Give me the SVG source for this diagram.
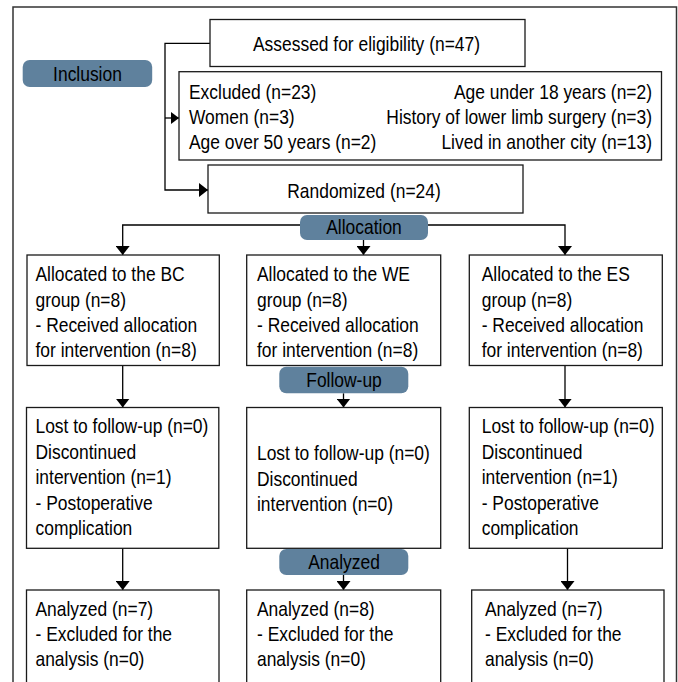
<svg xmlns="http://www.w3.org/2000/svg" width="678" height="682" viewBox="0 0 678 682">
<style>
.box{fill:#fff;stroke:#1a1a1a;stroke-width:1.3}
.pill{fill:#5f819d;stroke:none}
.frame{fill:none;stroke:#333;stroke-width:1.5}
.ln{fill:none;stroke:#000;stroke-width:1.3}
text{font-family:"Liberation Sans",Arial,sans-serif;font-size:20.5px;fill:#000}
.c{text-anchor:middle}
.r{text-anchor:end}
</style>
<defs>
<marker id="ah" markerUnits="userSpaceOnUse" viewBox="0 0 9 14" markerWidth="9" markerHeight="14" refX="9" refY="7" orient="auto"><path d="M0,0 L9,7 L0,14 z" fill="#000"/></marker>
<marker id="ahs" markerUnits="userSpaceOnUse" viewBox="0 0 8 12" markerWidth="8" markerHeight="12" refX="8" refY="6" orient="auto"><path d="M0,0 L8,6 L0,12 z" fill="#000"/></marker>
</defs>
<rect class="frame" x="13" y="7" width="663.5" height="690"/>
<g id="connectors">
<path class="ln" d="M210,43.3 H165 V190 H208" marker-end="url(#ah)"/>
<path class="ln" d="M165,118 H179" marker-end="url(#ahs)"/>
<path class="ln" d="M300,225 H122.7 V255" marker-end="url(#ah)"/>
<path class="ln" d="M428,225 H565 V255" marker-end="url(#ah)"/>
<path class="ln" d="M363.5,240 V255" marker-end="url(#ah)"/>
<path class="ln" d="M122.7,365.5 V407.5" marker-end="url(#ah)"/>
<path class="ln" d="M343.5,393.3 V407.5" marker-end="url(#ah)"/>
<path class="ln" d="M565,365.5 V407.5" marker-end="url(#ah)"/>
<path class="ln" d="M122.7,548 V590" marker-end="url(#ah)"/>
<path class="ln" d="M343.5,575 V590" marker-end="url(#ah)"/>
<path class="ln" d="M567.5,548 V590" marker-end="url(#ah)"/>
</g>
<g id="inclusion"><rect class="pill" x="22.7" y="60" width="129.5" height="27" rx="7"/><text class="c" transform="translate(87.5,80.5) scale(.85,1)">Inclusion</text></g>
<g id="assessed"><rect class="box" x="210" y="19.5" width="315" height="47"/><text class="c" transform="translate(366.5,50.5) scale(.85,1)">Assessed for eligibility (n=47)</text></g>
<g id="excluded"><rect class="box" x="179" y="71.7" width="482.5" height="88.3"/>
<text transform="translate(189,99) scale(.85,1)">Excluded (n=23)</text><text transform="translate(189,124) scale(.85,1)">Women (n=3)</text><text transform="translate(189,148.5) scale(.85,1)">Age over 50 years (n=2)</text>
<text class="r" transform="translate(652,99) scale(.85,1)">Age under 18 years (n=2)</text><text class="r" transform="translate(652,124) scale(.85,1)">History of lower limb surgery (n=3)</text><text class="r" transform="translate(652,148.5) scale(.85,1)">Lived in another city (n=13)</text></g>
<g id="randomized"><rect class="box" x="208" y="165" width="315" height="48"/><text class="c" transform="translate(364,198) scale(.85,1)">Randomized (n=24)</text></g>
<g id="allocation"><rect class="pill" x="300" y="215" width="128" height="25" rx="7"/><text class="c" transform="translate(364,233.5) scale(.85,1)">Allocation</text></g>
<g id="alloc-bc"><rect class="box" x="27" y="255" width="192.3" height="110.5"/><text transform="translate(35.5,281) scale(.85,1)">Allocated to the BC</text><text transform="translate(35.5,306.5) scale(.85,1)">group (n=8)</text><text transform="translate(35.5,332) scale(.85,1)">- Received allocation</text><text transform="translate(35.5,357) scale(.85,1)">for intervention (n=8)</text></g>
<g id="alloc-we"><rect class="box" x="246.7" y="255" width="194" height="110.5"/><text transform="translate(257,281) scale(.85,1)">Allocated to the WE</text><text transform="translate(257,306.5) scale(.85,1)">group (n=8)</text><text transform="translate(257,332) scale(.85,1)">- Received allocation</text><text transform="translate(257,357) scale(.85,1)">for intervention (n=8)</text></g>
<g id="alloc-es"><rect class="box" x="469.3" y="255" width="193" height="110.5"/><text transform="translate(481.7,281) scale(.85,1)">Allocated to the ES</text><text transform="translate(481.7,306.5) scale(.85,1)">group (n=8)</text><text transform="translate(481.7,332) scale(.85,1)">- Received allocation</text><text transform="translate(481.7,357) scale(.85,1)">for intervention (n=8)</text></g>
<g id="followup"><rect class="pill" x="279.3" y="366.7" width="129" height="26.6" rx="7"/><text class="c" transform="translate(344,386.5) scale(.85,1)">Follow-up</text></g>
<g id="fu-bc"><rect class="box" x="26.5" y="407.5" width="192.3" height="140.8"/><text transform="translate(35.5,433) scale(.85,1)">Lost to follow-up (n=0)</text><text transform="translate(35.5,458.5) scale(.85,1)">Discontinued</text><text transform="translate(35.5,484) scale(.85,1)">intervention (n=1)</text><text transform="translate(35.5,509.5) scale(.85,1)">- Postoperative</text><text transform="translate(35.5,535) scale(.85,1)">complication</text></g>
<g id="fu-we"><rect class="box" x="246.7" y="407.5" width="194" height="140.8"/><text transform="translate(257,460) scale(.85,1)">Lost to follow-up (n=0)</text><text transform="translate(257,485.5) scale(.85,1)">Discontinued</text><text transform="translate(257,511) scale(.85,1)">intervention (n=0)</text></g>
<g id="fu-es"><rect class="box" x="469.3" y="407.5" width="193" height="140.8"/><text transform="translate(481.7,433) scale(.85,1)">Lost to follow-up (n=0)</text><text transform="translate(481.7,458.5) scale(.85,1)">Discontinued</text><text transform="translate(481.7,484) scale(.85,1)">intervention (n=1)</text><text transform="translate(481.7,509.5) scale(.85,1)">- Postoperative</text><text transform="translate(481.7,535) scale(.85,1)">complication</text></g>
<g id="analyzed"><rect class="pill" x="279.3" y="549" width="129" height="26" rx="7"/><text class="c" transform="translate(344,568.5) scale(.85,1)">Analyzed</text></g>
<g id="an-bc"><rect class="box" x="26.5" y="590" width="192.5" height="110"/><text transform="translate(35.5,615.5) scale(.85,1)">Analyzed (n=7)</text><text transform="translate(35.5,641) scale(.85,1)">- Excluded for the</text><text transform="translate(35.5,666) scale(.85,1)">analysis (n=0)</text></g>
<g id="an-we"><rect class="box" x="246.7" y="590" width="194" height="110"/><text transform="translate(257,615.5) scale(.85,1)">Analyzed (n=8)</text><text transform="translate(257,641) scale(.85,1)">- Excluded for the</text><text transform="translate(257,666) scale(.85,1)">analysis (n=0)</text></g>
<g id="an-es"><rect class="box" x="471.7" y="590" width="192.3" height="110"/><text transform="translate(485,615.5) scale(.85,1)">Analyzed (n=7)</text><text transform="translate(485,641) scale(.85,1)">- Excluded for the</text><text transform="translate(485,666) scale(.85,1)">analysis (n=0)</text></g>
</svg>
